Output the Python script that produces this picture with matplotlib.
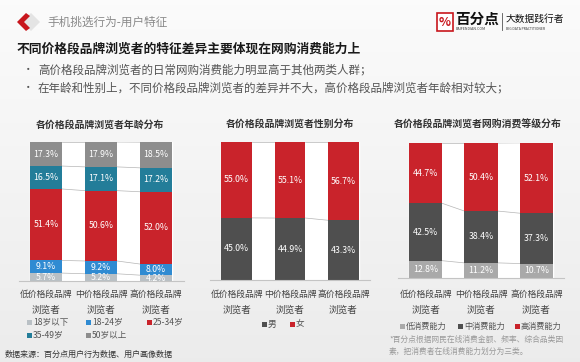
import matplotlib
matplotlib.use("Agg")
import matplotlib.pyplot as plt
import matplotlib.patches as patches
import matplotlib.transforms as mtransforms
import numpy as np

plt.rcParams['font.family'] = ['Noto Sans CJK SC', 'DejaVu Sans']

# --- data ---
groups = ["低价格段品牌", "中价格段品牌", "高价格段品牌"]
age_names = ["18岁以下", "18-24岁", "25-34岁", "35-49岁", "50岁以上"]
age_under18 = [5.7, 5.2, 4.2]
age_18_24 = [9.1, 9.2, 8.0]
age_25_34 = [51.4, 50.6, 52.0]
age_35_49 = [16.5, 17.1, 17.2]
age_50plus = [17.3, 17.9, 18.5]
gender_names = ["男", "女"]
gender_male = [45.0, 44.9, 43.3]
gender_female = [55.0, 55.1, 56.7]
spend_names = ["低消费能力", "中消费能力", "高消费能力"]
spend_low = [12.8, 11.2, 10.7]
spend_mid = [42.5, 38.4, 37.3]
spend_high = [44.7, 50.4, 52.1]

RED = "#c9232b"
age_colors = ["#b9c0c5", "#2f8bd2", RED, "#237d99", "#8d8d8d"]
gender_colors = ["#4f4f4f", RED]
spend_colors = ["#a9a9a9", "#4f4f4f", RED]

W, H = 580, 362
fig = plt.figure(figsize=(5.8, 3.62), dpi=100)

def fx(x):
    return x / W

def fy(y):
    return 1 - y / H

# background gradient
bg = fig.add_axes([0, 0, 1, 1], zorder=-10)
grad = np.linspace(0.985, 0.925, 200).reshape(-1, 1)
bg.imshow(np.dstack([grad, grad, grad]), aspect="auto", extent=[0, 1, 0, 1])
bg.axis("off")

# header icon
fig.patches.append(patches.Polygon([[fx(22), fy(22)], [fx(31), fy(13)], [fx(40), fy(22)], [fx(31), fy(31)]],
                                   closed=True, transform=fig.transFigure, fc="#e4e4e4", ec="none"))
fig.patches.append(patches.Polygon([[fx(17), fy(22)], [fx(26), fy(13)], [fx(30), fy(16)], [fx(24), fy(22)],
                                    [fx(30), fy(28)], [fx(26), fy(31)]],
                                   closed=True, transform=fig.transFigure, fc="#c8161d", ec="none"))
fig.text(fx(47), fy(22), "手机挑选行为-用户特征", fontsize=8.4, color="#8a8a8a", va="center")

# logo
fig.patches.append(patches.Rectangle((fx(437), fy(31)), 16 / W, 18 / H, transform=fig.transFigure,
                                     fc="white", ec="#c8161d", lw=1.2))
fig.text(fx(445), fy(22), "%", fontsize=9, color="#c8161d", ha="center", va="center", weight="bold")
fig.text(fx(455), fy(19), "百分点", fontsize=10.5, color="#111111", va="center", weight="bold")
fig.text(fx(456), fy(29.5), "BAIFENDIAN.COM", fontsize=2.6, color="#333333", va="center")
fig.lines.append(plt.Line2D([fx(502), fx(502)], [fy(13), fy(30)], transform=fig.transFigure,
                            color="#555555", lw=0.6))
fig.text(fx(506), fy(19), "大数据践行者", fontsize=7, color="#111111", va="center", style="italic")
fig.text(fx(506), fy(29.5), "BIG DATA PRACTITIONER", fontsize=2.4, color="#333333", va="center")

# title and bullets
fig.text(fx(17), fy(49), "不同价格段品牌浏览者的特征差异主要体现在网购消费能力上",
         fontsize=9.2, weight="bold", color="#1a1a1a", va="center")
bullets = ["高价格段品牌浏览者的日常网购消费能力明显高于其他两类人群；",
           "在年龄和性别上，不同价格段品牌浏览者的差异并不大，高价格段品牌浏览者年龄相对较大；"]
for i, b in enumerate(bullets):
    yy = 70 + i * 18
    fig.text(fx(23), fy(yy), "•", fontsize=7.5, color="#555555", va="center")
    fig.text(fx(38), fy(yy), b, fontsize=8.3, color="#555555", va="center")


def stacked(rect, series, colors, width, title, title_xy):
    ax = fig.add_axes(rect)
    x = np.arange(len(groups))
    bottom = np.zeros(len(groups))
    ax.axvspan(x[0] - width / 2, x[-1] + width / 2, color="white", zorder=0)
    for vals, c in zip(series, colors):
        vals = np.array(vals)
        ax.bar(x, vals, width=width, bottom=bottom, color=c, zorder=2, edgecolor="none")
        for xi, b, v in zip(x, bottom, vals):
            ax.text(xi, b + v / 2, f"{v:.1f}%", ha="center", va="center", color="white",
                    fontsize=6.3, zorder=4, clip_on=True)
        bottom = bottom + vals
        # connector lines between neighbouring bars
        for i in range(len(x) - 1):
            ax.plot([x[i] + width / 2, x[i + 1] - width / 2], [bottom[i], bottom[i + 1]],
                    color="#b5b5b5", lw=0.5, zorder=1)
    ax.set_xlim(-0.5, 2.5)
    ax.set_ylim(0, 100)
    for s in ["top", "left", "right"]:
        ax.spines[s].set_visible(False)
    ax.spines["bottom"].set_color("#c4c4c4")
    ax.spines["bottom"].set_linewidth(0.8)
    ax.set_xticks([])
    ax.set_yticks([])
    ax.patch.set_alpha(0)
    tr = mtransforms.blended_transform_factory(ax.transData, fig.transFigure)
    for xi, g in zip(x, groups):
        ax.text(xi, fy(294), g, transform=tr, ha="center", va="center", fontsize=6.35, color="#444444")
        ax.text(xi, fy(310), "浏览者", transform=tr, ha="center", va="center", fontsize=6.9, color="#444444")
    fig.text(fx(title_xy[0]), fy(title_xy[1]), title, ha="center", va="center",
             fontsize=7.1, weight="bold", color="#333333")
    return ax


def legend_item(x, y, color, label, size=6.2):
    fig.patches.append(patches.Rectangle((fx(x), fy(y + 2.5)), 5 / W, 5 / H, transform=fig.transFigure,
                                         fc=color, ec="none"))
    fig.text(fx(x + 6), fy(y), label, fontsize=size, color="#555555", va="center")


# chart 1: age
stacked([fx(18.5), fy(281), 165 / W, 139 / H],
        [age_under18, age_18_24, age_25_34, age_35_49, age_50plus], age_colors, 0.58,
        "各价格段品牌浏览者年龄分布", (100, 125))
legend_item(27, 322, age_colors[0], age_names[0])
legend_item(86, 322, age_colors[1], age_names[1])
legend_item(147, 322, age_colors[2], age_names[2])
legend_item(27, 335, age_colors[3], age_names[3])
legend_item(86, 335, age_colors[4], age_names[4])

# chart 2: gender
stacked([fx(210), fy(280), 160 / W, 138 / H],
        [gender_male, gender_female], gender_colors, 0.58,
        "各价格段品牌浏览者性别分布", (290, 124))
legend_item(262, 324, gender_colors[0], gender_names[0])
legend_item(290, 324, gender_colors[1], gender_names[1])

# chart 3: spending level
stacked([fx(398), fy(278), 166 / W, 135 / H],
        [spend_low, spend_mid, spend_high], spend_colors, 0.6,
        "各价格段品牌浏览者网购消费等级分布", (478, 125))
legend_item(400, 326, spend_colors[0], spend_names[0], 5.9)
legend_item(458, 326, spend_colors[1], spend_names[1], 5.9)
legend_item(515, 326, spend_colors[2], spend_names[2], 5.9)

fig.text(fx(389), fy(340), "*百分点根据网民在线消费金额、频率、综合品类因", fontsize=5.6, color="#9a9a9a", va="center")
fig.text(fx(389), fy(352), "素，把消费者在线消费能力划分为三类。", fontsize=5.6, color="#9a9a9a", va="center")

fig.text(fx(5), fy(354), "数据来源：百分点用户行为数据、用户画像数据", fontsize=5.8, color="#333333", va="center")

fig.savefig("out.png", dpi=100)
